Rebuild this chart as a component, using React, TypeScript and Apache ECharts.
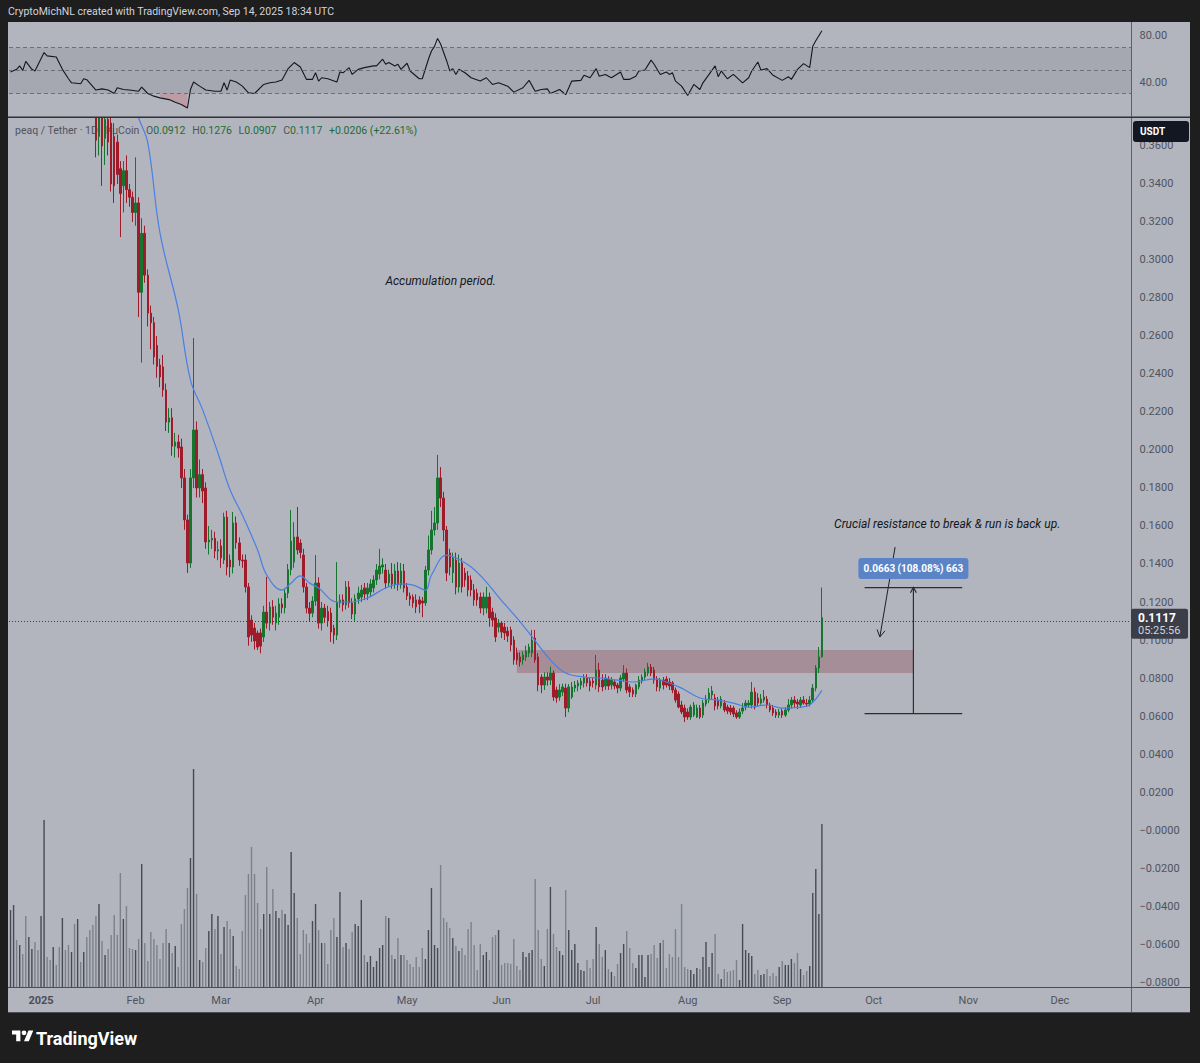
import React, { useEffect, useRef } from "react";
import * as echarts from "echarts";

// ---------- DATA ----------
// Daily candles from 2024-12-22 (index 0) to 2025-09-14 — [open, high, low, close]
const ohlc: number[][] = [
  [0.43,0.46,0.42,0.44],[0.44,0.47,0.43,0.46],[0.46,0.47,0.44,0.45],[0.45,0.48,0.44,0.47],[0.47,0.48,0.44,0.45],
  [0.45,0.47,0.43,0.44],[0.44,0.47,0.43,0.46],[0.46,0.50,0.45,0.49],[0.49,0.50,0.47,0.48],[0.48,0.49,0.46,0.47],
  // Jan 2025
  [0.47,0.49,0.46,0.48],[0.48,0.53,0.47,0.50],[0.50,0.51,0.48,0.49],[0.49,0.50,0.46,0.47],[0.47,0.49,0.46,0.48],
  [0.48,0.49,0.45,0.46],[0.46,0.47,0.43,0.44],[0.44,0.46,0.43,0.45],[0.45,0.46,0.42,0.43],[0.43,0.44,0.41,0.42],
  [0.42,0.44,0.41,0.43],[0.43,0.44,0.40,0.41],[0.41,0.43,0.40,0.42],[0.42,0.43,0.395,0.40],[0.40,0.42,0.39,0.41],
  [0.41,0.42,0.39,0.40],[0.40,0.41,0.385,0.395],[0.395,0.41,0.38,0.39],[0.39,0.40,0.354,0.363],[0.365,0.39,0.355,0.375],
  [0.378,0.39,0.339,0.36],[0.364,0.385,0.35,0.374],[0.374,0.385,0.355,0.362],[0.372,0.38,0.336,0.34],[0.365,0.372,0.33,0.339],
  [0.362,0.366,0.34,0.345],[0.348,0.352,0.312,0.335],[0.339,0.352,0.325,0.347],[0.347,0.355,0.33,0.337],[0.337,0.34,0.328,0.333],
  [0.333,0.336,0.32,0.325],[0.325,0.354,0.318,0.33],
  // Feb
  [0.33,0.333,0.27,0.283],[0.283,0.322,0.246,0.314],[0.314,0.318,0.288,0.292],[0.292,0.295,0.265,0.272],[0.272,0.276,0.253,0.267],
  [0.267,0.27,0.245,0.249],[0.255,0.26,0.238,0.244],[0.2447,0.248,0.233,0.2384],[0.2437,0.25,0.228,0.2316],[0.2316,0.235,0.21,0.2147],
  [0.2147,0.222,0.209,0.2168],[0.217,0.222,0.197,0.202],[0.202,0.209,0.196,0.2042],[0.2042,0.208,0.196,0.201],[0.2016,0.206,0.18,0.1853],
  [0.1853,0.19,0.158,0.1632],[0.1632,0.166,0.1353,0.1405],[0.1405,0.19,0.138,0.1853],[0.1853,0.2589,0.18,0.2105],[0.2105,0.215,0.175,0.18],
  [0.18,0.195,0.175,0.187],[0.187,0.19,0.172,0.1784],[0.18,0.183,0.148,0.1516],[0.1516,0.16,0.145,0.1526],[0.1526,0.158,0.148,0.1535],
  [0.1535,0.157,0.143,0.1468],[0.1468,0.152,0.142,0.1475],[0.1495,0.153,0.138,0.1432],
  // Mar
  [0.1421,0.167,0.14,0.1647],[0.1647,0.168,0.134,0.1384],[0.1421,0.145,0.133,0.1384],[0.1384,0.1674,0.135,0.1616],[0.1616,0.165,0.148,0.1511],
  [0.1511,0.154,0.139,0.1421],[0.1421,0.145,0.138,0.1416],[0.1421,0.145,0.125,0.1279],[0.1279,0.13,0.097,0.1016],[0.1105,0.113,0.099,0.1026],
  [0.1063,0.109,0.095,0.0995],[0.1037,0.105,0.0947,0.0963],[0.1037,0.106,0.093,0.0968],[0.1016,0.118,0.099,0.1147],[0.1147,0.1332,0.106,0.1089],
  [0.1089,0.12,0.105,0.1174],[0.1174,0.121,0.108,0.112],[0.109,0.118,0.105,0.1142],[0.112,0.122,0.108,0.119],[0.119,0.122,0.114,0.117],
  [0.117,0.127,0.114,0.1247],[0.1247,0.14,0.122,0.137],[0.137,0.1684,0.134,0.152],[0.141,0.162,0.138,0.1542],[0.1542,0.17,0.145,0.1474],
  [0.151,0.153,0.143,0.146],[0.1447,0.148,0.125,0.1279],[0.1279,0.13,0.114,0.1168],[0.1168,0.12,0.11,0.114],[0.1142,0.123,0.112,0.1205],
  [0.1205,0.1447,0.118,0.13],
  // Apr
  [0.13,0.133,0.106,0.1089],[0.1089,0.12,0.105,0.1168],[0.1168,0.119,0.109,0.112],[0.115,0.118,0.107,0.11],[0.1142,0.117,0.099,0.1042],
  [0.1063,0.108,0.098,0.1026],[0.1026,0.141,0.1,0.12],[0.1195,0.124,0.117,0.1211],[0.1211,0.124,0.115,0.1185],[0.1185,0.131,0.116,0.1279],
  [0.1279,0.131,0.117,0.1195],[0.1195,0.122,0.111,0.1137],[0.1137,0.124,0.11,0.1216],[0.1216,0.128,0.119,0.1247],[0.1226,0.129,0.12,0.1263],
  [0.1274,0.13,0.121,0.1242],[0.1242,0.13,0.121,0.1274],[0.1253,0.132,0.123,0.1295],[0.1274,0.134,0.125,0.1316],[0.1316,0.14,0.129,0.1368],
  [0.1347,0.148,0.132,0.1389],[0.1384,0.143,0.135,0.1395],[0.1368,0.14,0.127,0.13],[0.13,0.137,0.128,0.1347],[0.1347,0.1405,0.127,0.1295],
  [0.1295,0.14,0.127,0.1363],[0.1363,0.141,0.126,0.129],[0.129,0.1405,0.127,0.1363],[0.1363,0.14,0.125,0.1274],[0.1279,0.13,0.121,0.1232],
  // May
  [0.1232,0.125,0.118,0.1215],[0.1226,0.124,0.117,0.1195],[0.1211,0.124,0.1142,0.1174],[0.1211,0.123,0.1142,0.1189],[0.1205,0.1226,0.112,0.1195],
  [0.1195,0.139,0.118,0.1368],[0.1368,0.155,0.134,0.1474],[0.1474,0.168,0.145,0.1579],[0.1579,0.17,0.155,0.1616],[0.1616,0.1974,0.158,0.1853],
  [0.1853,0.191,0.17,0.1747],[0.1747,0.178,0.152,0.1579],[0.1579,0.16,0.131,0.1353],[0.1458,0.148,0.134,0.1384],[0.1353,0.146,0.13,0.1432],
  [0.1421,0.146,0.124,0.1279],[0.1279,0.145,0.125,0.1405],[0.1405,0.1432,0.125,0.1279],[0.1353,0.138,0.128,0.1316],[0.1337,0.1363,0.123,0.1263],
  [0.1316,0.134,0.123,0.1263],[0.1263,0.1295,0.118,0.1211],[0.1247,0.127,0.118,0.1211],[0.1226,0.125,0.114,0.1168],[0.1168,0.125,0.113,0.1226],
  [0.1168,0.128,0.114,0.1226],[0.1226,0.125,0.107,0.1116],[0.1147,0.117,0.107,0.1105],[0.1116,0.114,0.099,0.1016],[0.1068,0.111,0.104,0.1089],
  [0.1089,0.11,0.101,0.1042],
  // Jun
  [0.1068,0.109,0.1,0.1037],[0.1047,0.107,0.099,0.1021],[0.1053,0.107,0.094,0.0974],[0.1,0.102,0.087,0.0895],[0.0932,0.096,0.087,0.0895],
  [0.0911,0.0935,0.086,0.0884],[0.0895,0.094,0.087,0.0921],[0.0911,0.097,0.089,0.0942],[0.0932,0.098,0.091,0.0963],[0.0932,0.1053,0.091,0.1],
  [0.101,0.1053,0.088,0.0895],[0.0911,0.093,0.073,0.0763],[0.0805,0.082,0.072,0.0763],[0.0763,0.083,0.0737,0.0805],[0.0805,0.083,0.076,0.0789],
  [0.0789,0.086,0.0763,0.0826],[0.0826,0.084,0.068,0.07],[0.0737,0.0755,0.067,0.0695],[0.07,0.0768,0.068,0.0737],[0.0726,0.077,0.0705,0.0753],
  [0.0747,0.077,0.0595,0.0642],[0.0642,0.0768,0.062,0.0753],[0.07,0.0779,0.069,0.0753],[0.0747,0.0784,0.0726,0.0763],[0.0758,0.0789,0.073,0.0774],
  [0.0763,0.08,0.074,0.0784],[0.0774,0.082,0.075,0.08],[0.08,0.082,0.0755,0.0774],[0.0784,0.0805,0.073,0.0758],[0.0784,0.08,0.075,0.0774],
  // Jul
  [0.0763,0.0921,0.074,0.0842],[0.0842,0.088,0.0726,0.0753],[0.0789,0.082,0.073,0.0753],[0.0758,0.082,0.0737,0.08],[0.0795,0.081,0.0737,0.0758],
  [0.0763,0.0805,0.074,0.0789],[0.0779,0.079,0.074,0.0758],[0.0763,0.0775,0.072,0.0747],[0.0747,0.0816,0.073,0.08],[0.0795,0.0868,0.078,0.0826],
  [0.0826,0.085,0.072,0.0737],[0.0753,0.0768,0.07,0.0726],[0.0737,0.075,0.07,0.0716],[0.0716,0.077,0.07,0.0763],[0.0753,0.081,0.074,0.0789],
  [0.0784,0.082,0.077,0.0805],[0.0805,0.085,0.079,0.0832],[0.0826,0.088,0.081,0.0858],[0.0858,0.0874,0.081,0.0826],[0.0842,0.0858,0.077,0.0789],
  [0.0795,0.081,0.073,0.0753],[0.0747,0.08,0.073,0.0789],[0.0789,0.0805,0.074,0.0763],[0.0795,0.081,0.075,0.0763],[0.0779,0.08,0.0737,0.0758],
  [0.0774,0.0784,0.072,0.0737],[0.0737,0.075,0.067,0.0684],[0.0716,0.073,0.064,0.0647],[0.0658,0.068,0.061,0.0621],[0.0642,0.066,0.0568,0.0595],
  [0.0621,0.064,0.058,0.0595],
  // Aug
  [0.0595,0.066,0.058,0.0647],[0.0605,0.0674,0.0595,0.0658],[0.0595,0.066,0.059,0.0642],[0.0642,0.0658,0.0585,0.0595],[0.0605,0.0684,0.059,0.0668],
  [0.0663,0.071,0.065,0.0684],[0.0684,0.0747,0.0668,0.0721],[0.0711,0.0758,0.069,0.0732],[0.0695,0.0716,0.063,0.0653],[0.0684,0.07,0.0635,0.0653],
  [0.0653,0.0705,0.064,0.0689],[0.0668,0.0684,0.062,0.0632],[0.0647,0.066,0.061,0.0626],[0.0642,0.0658,0.0605,0.0621],[0.0642,0.0653,0.0595,0.0611],
  [0.0616,0.063,0.0585,0.0595],[0.0595,0.064,0.0585,0.0621],[0.0626,0.0668,0.061,0.0642],[0.0647,0.0684,0.063,0.0668],[0.0658,0.0684,0.0645,0.0668],
  [0.0658,0.0779,0.064,0.0726],[0.0726,0.075,0.0635,0.0647],[0.0695,0.072,0.065,0.0668],[0.0668,0.0716,0.066,0.0689],[0.0684,0.0737,0.067,0.07],
  [0.0689,0.0705,0.064,0.0658],[0.0658,0.067,0.062,0.0632],[0.0642,0.0658,0.06,0.0616],[0.0621,0.0635,0.059,0.0605],[0.0605,0.0637,0.059,0.0621],
  [0.0626,0.064,0.059,0.0605],
  // Sep
  [0.0605,0.0647,0.0595,0.0632],[0.0632,0.0689,0.062,0.0658],[0.0658,0.07,0.064,0.0684],[0.0684,0.0705,0.0647,0.0668],[0.0674,0.0689,0.0637,0.0663],
  [0.0658,0.07,0.0642,0.0684],[0.0684,0.0705,0.066,0.0668],[0.0668,0.069,0.0647,0.0663],[0.0663,0.0705,0.065,0.0684],[0.0684,0.0768,0.067,0.0747],
  [0.0747,0.0868,0.073,0.0853],[0.0853,0.0963,0.0826,0.0911],[0.0912,0.1276,0.0907,0.1117],
];

// Volume per candle (same order, arbitrary units)
const volumes: number[] = [
  77,82,47,42,33,71,50,38,45,37, 71,167,30,27,40,22,40,69,37,42, 35,63,68,25,35,50,57,62,71,83,
  46,32,38,52,72,52,114,68,81,39, 38,37,48,123,44,26,55,48,42,28, 44,58,44,34,41,20,63,78,99,129,
  218,93,27,25,39,56,73,58,71,33, 60,66,58,51,21,18,56,92,113,140, 113,84,58,73,120,73,98,76,69,77,
  73,62,135,94,69,33,57,53,44,66, 83,57,44,44,23,57,69,50,95,40, 44,38,55,63,61,87,32,25,31,20,
  26,39,42,71,69,32,28,49,32,32, 27,23,20,30,20,39,28,57,99,42, 39,122,69,65,59,49,41,36,39,32,
  58,65,42,17,43,32,35,27,50,52, 57,22,24,24,23,48,21,17,35,30, 34,37,108,57,28,21,58,100,53,40,
  36,32,97,57,37,43,24,17,16,27, 19,28,60,43,30,37,18,15,11,23, 34,43,56,39,24,19,32,32,10,32,
  33,42,29,44,47,19,33,30,58,30, 83,20,18,17,13,19,18,30,45,20, 34,53,13,8,18,15,16,17,27,7,
  63,37,34,31,13,17,12,13,18,11, 14,11,20,26,22,22,28,24,34,18, 12,16,21,94,118,73,163,
];

// Moving average (blue): day offset from 2025-01-01 and value
const maDays = [30,32,35,39,45,49,53,58,62,66,71,74,79,82,85,88,91,97,101,107,113,118,122,126,128,133,136,141,146,150,156,161,167,172,178,183,189,194,201,205,210,216,222,227,232,238,243,249,252,256];
const maValues = [0.385,0.3747,0.3616,0.3142,0.2737,0.2368,0.2211,0.1984,0.1789,0.1658,0.1474,0.1342,0.1263,0.130,0.1337,0.130,0.1274,0.12,0.12,0.1221,0.1274,0.1295,0.1289,0.1263,0.1342,0.1447,0.1432,0.1384,0.1305,0.1226,0.1116,0.1016,0.0895,0.0826,0.0805,0.08,0.0789,0.0779,0.0795,0.0779,0.0747,0.0695,0.0684,0.0668,0.0647,0.0658,0.0642,0.0647,0.0658,0.0735];

// RSI: day offset from 2025-01-01 and value
const rsiDays = [-10,-8,-7,-6,-5,-3,-2,1,2,5,7,9,10,13,14,15,18,20,22,24,25,27,29,32,33,35,37,39,42,44,46,48,49,50,52,54,57,59,60,61,62,64,66,68,70,73,75,77,79,81,83,85,87,89,90,91,92,94,97,98,99,101,102,104,106,109,110,112,113,114,116,117,118,120,121,124,125,127,128,129,130,131,133,134,135,136,137,139,141,144,146,148,150,153,155,158,160,162,164,166,167,170,172,174,177,178,180,182,183,185,187,190,191,193,195,196,198,200,201,203,205,206,207,208,210,212,214,216,217,219,221,222,223,225,227,230,232,233,235,236,238,240,243,245,246,248,250,252,253,254,256];
const rsiValues = [48.7,51,54,50,58,51,49.6,65.6,62.7,61.8,51,42.8,39.3,38.5,42.8,42,33,34,33,30,35,33.5,33,32,35.5,30,27.7,26.2,24.7,22.4,20.4,17.4,33.5,40,36.4,33,32,32,39.3,33,41.7,40,36.4,30.6,30,37.9,39.3,40,41.7,51.6,56.9,53,42.3,42.3,48,40.8,43.7,42.8,40,48.7,48,52.5,46.6,51,52.5,54,54,59.8,55.4,56.9,54,55.4,51,56.3,49.6,42.8,42.8,59.8,67,71,77.9,73,58.3,49.6,51.6,46.6,51,48,43.7,40.8,43.7,37.9,39.3,36.4,31.2,35,41.4,32,33.5,34,30,33.5,29,40.8,41.4,45.8,43.7,51.6,45,46.6,43.7,48.7,42.3,42.3,45,49.6,50.4,59,55.4,46.6,48.7,46.6,48,40.8,36.4,28.2,37.9,33.5,39.3,46.6,54,44.6,49.6,42.8,46.6,39.3,43.7,49.6,57.4,50.4,51.6,45.8,41.4,44.6,42.3,51,56,52.5,71,75.8,84.6];
const oversoldDays = [39, 48];

const priceTicks = [0.36,0.34,0.32,0.30,0.28,0.26,0.24,0.22,0.20,0.18,0.16,0.14,0.12,0.10,0.08,0.06,0.04,0.02,0,-0.02,-0.04,-0.06,-0.08];
const rsiTicks = [80, 40];
const rsiLevels = [70, 50, 30];
const monthNames = ["Jan","Feb","Mar","Apr","May","Jun","Jul","Aug","Sep","Oct","Nov","Dec"];

const lastPrice = 0.1117;
const zoneDays = [156, 286];
const zonePrices = [0.0826, 0.0947];
const measureDays = [270, 286, 302];
const measurePrices = [0.0613, 0.1276];
const measureLabel = "0.0663 (108.08%) 663";
const arrowFrom = [280, 0.1489];
const arrowTo = [275, 0.1016];

// categories: one per day, 2024-12-22 .. 2025-12-24
const DAY_OFFSET = 10;
const categories: string[] = [];
for (let i = 0; i < 368; i++) {
  const t = new Date(Date.UTC(2024, 11, 22) + i * 86400000);
  categories.push(t.toISOString().slice(0, 10));
}
const cat = (d: number) => categories[d + DAY_OFFSET];

const FONT = "Roboto";
const UP = "#15742d";
const DOWN = "#a01b29";
const GRID_LEFT = 9;
const GRID_RIGHT = 1200 - 1131.5;

export default function App() {
  const mainRef = useRef<HTMLDivElement>(null);
  const rsiRef = useRef<HTMLDivElement>(null);

  useEffect(() => {
    // ---------------- main price pane ----------------
    const chart = echarts.init(mainRef.current!, null, { renderer: "svg", width: 1200, height: 1063 });

    const candleData = ohlc.map((r) => [r[0], r[3], r[2], r[1]]);
    const volData = volumes.map((v, i) => ({
      value: v,
      itemStyle: { color: ohlc[i][3] >= ohlc[i][0] ? "#474a53" : "#7d8089" },
    }));
    const maData: (number | null)[] = categories.map(() => null);
    maDays.forEach((d, i) => (maData[d + DAY_OFFSET] = maValues[i]));

    chart.setOption({
      animation: false,
      backgroundColor: "#1e1e1e",
      textStyle: { fontFamily: FONT },
      grid: [{ left: GRID_LEFT, right: GRID_RIGHT, top: 118, height: 869 }],
      xAxis: [
        {
          type: "category",
          data: categories,
          axisLine: { show: false },
          axisTick: { show: false },
          splitLine: { show: false },
          axisLabel: {
            margin: 8,
            color: "#50535e",
            fontSize: 11,
            fontFamily: FONT,
            interval: (_i: number, v: string) => v.endsWith("-01"),
            formatter: (v: string) => {
              const m = parseInt(v.slice(5, 7), 10);
              return m === 1 ? "{y|" + v.slice(0, 4) + "}" : monthNames[m - 1];
            },
            rich: { y: { fontWeight: "bold", color: "#4a4d57", fontSize: 11, fontFamily: FONT } },
          },
        },
      ],
      yAxis: [
        {
          type: "value",
          position: "right",
          min: -0.0826,
          max: 0.3747,
          splitLine: { show: false },
          axisLine: { show: false },
          axisTick: { show: false },
          axisLabel: {
            customValues: priceTicks,
            margin: 8,
            color: "#50535e",
            fontSize: 11,
            fontFamily: FONT,
            formatter: (v: number) => (v < 0.00001 ? "\u2212" + Math.abs(v).toFixed(4) : v.toFixed(4)),
          },
        },
        { type: "value", min: 0, max: 869, show: false },
      ],
      series: [
        {
          type: "bar",
          xAxisIndex: 0,
          yAxisIndex: 1,
          data: volData,
          barWidth: 1.4,
          silent: true,
        },
        {
          type: "candlestick",
          xAxisIndex: 0,
          yAxisIndex: 0,
          data: candleData,
          barWidth: 2,
          clip: true,
          itemStyle: { color: UP, color0: DOWN, borderColor: UP, borderColor0: DOWN, borderWidth: 1 },
          markLine: {
            silent: true,
            symbol: "none",
            label: { show: false },
            lineStyle: { color: "#3d4049", type: [1, 2], width: 1 },
            data: [{ yAxis: lastPrice }],
          },
          markArea: {
            silent: true,
            itemStyle: { color: "rgba(135,54,62,0.3)" },
            data: [[{ xAxis: cat(zoneDays[0]), yAxis: zonePrices[1] }, { xAxis: cat(zoneDays[1]), yAxis: zonePrices[0] }]],
          },
        },
        {
          type: "line",
          xAxisIndex: 0,
          yAxisIndex: 0,
          data: maData,
          connectNulls: true,
          smooth: 0.4,
          symbol: "none",
          lineStyle: { color: "#4a7fe6", width: 1.2 },
          silent: true,
        },
      ],
    });

    const px = (d: number, v: number) =>
      chart.convertToPixel({ xAxisIndex: 0, yAxisIndex: 0 }, [cat(d), v]) as number[];

    const head = (from: number[], to: number[], len: number) => {
      const dx = to[0] - from[0];
      const dy = to[1] - from[1];
      const L = Math.hypot(dx, dy);
      const ux = dx / L, uy = dy / L;
      const a = Math.PI / 6;
      const r1 = [to[0] - len * (ux * Math.cos(a) - uy * Math.sin(a)), to[1] - len * (uy * Math.cos(a) + ux * Math.sin(a))];
      const r2 = [to[0] - len * (ux * Math.cos(-a) - uy * Math.sin(-a)), to[1] - len * (uy * Math.cos(-a) + ux * Math.sin(-a))];
      return [r1, to, r2];
    };

    const yLast = px(0, lastPrice)[1];
    const mL = px(measureDays[0], measurePrices[1]);
    const mC = px(measureDays[1], measurePrices[0]);
    const mR = px(measureDays[2], measurePrices[0]);
    const mTop = px(measureDays[1], measurePrices[1]);
    const a0 = px(arrowFrom[0], arrowFrom[1]);
    const a1 = px(arrowTo[0], arrowTo[1]);
    const accPos = px(131, 0.289);
    const crucialPos = px(260, 0.161);
    const labelY = mTop[1] - 19;

    echarts.graphic.registerShape(
      "tvlogo",
      echarts.graphic.extendPath("M14 22H7V11H0V4h14v18ZM28 22h-8l7.5-18h8L28 22ZM24 8a4 4 0 1 1-8 0a4 4 0 1 1 8 0Z", {})
    );

    const lineEl = (x1: number, y1: number, x2: number, y2: number, stroke: string, w = 1, z = 50) => ({
      type: "line",
      z,
      silent: true,
      shape: { x1, y1, x2, y2 },
      style: { stroke, lineWidth: w },
    });

    chart.setOption({
      graphic: [
        { type: "rect", z: -10, silent: true, shape: { x: 8, y: 22, width: 1182, height: 991 }, style: { fill: "#b2b5bd" } },
        lineEl(1131.5, 22, 1131.5, 1013, "#5d606b", 1, 60),
        lineEl(8, 987.5, 1190, 987.5, "#4a4d56", 1, 60),
        lineEl(8, 1012.5, 1190, 1012.5, "#4a4d56", 1, 60),
        {
          type: "text", z: -5, x: 15, y: 130, silent: true,
          style: { text: "peaq / Tether \u00b7 1D \u00b7 KuCoin", fill: "#50535e", font: "10.5px Roboto", verticalAlign: "middle" },
        },
        {
          type: "text", z: -5, x: 146, y: 130, silent: true,
          style: {
            text: "{l|O}{v|0.0912}  {l|H}{v|0.1276}  {l|L}{v|0.0907}  {l|C}{v|0.1117}  {v|+0.0206 (+22.61%)}",
            verticalAlign: "middle",
            rich: {
              l: { fill: "#50535e", font: "10.5px Roboto" },
              v: { fill: "#1d6b36", font: "10.5px Roboto" },
            },
          },
        },
        // USDT box
        { type: "rect", z: 80, silent: true, shape: { x: 1133, y: 121, width: 56, height: 21, r: 3 }, style: { fill: "#131722" } },
        { type: "text", z: 81, x: 1140, y: 131.5, silent: true, style: { text: "USDT", fill: "#ffffff", font: "bold 10px Roboto", verticalAlign: "middle" } },
        // last price label
        { type: "rect", z: 80, silent: true, shape: { x: 1131, y: yLast - 9, width: 57, height: 30, r: 2 }, style: { fill: "#3b3e48" } },
        { type: "text", z: 81, x: 1138, y: yLast, silent: true, style: { text: "0.1117", fill: "#ffffff", font: "bold 12px Roboto", verticalAlign: "middle" } },
        { type: "text", z: 81, x: 1138, y: yLast + 13, silent: true, style: { text: "05:25:56", fill: "#d1d4dc", font: "11px Roboto", verticalAlign: "middle" } },
        // annotations
        {
          type: "text", z: 70, x: accPos[0], y: accPos[1], silent: true,
          style: { text: "Accumulation period.", fill: "#131722", font: "italic 12px Roboto", align: "center", verticalAlign: "middle" },
        },
        {
          type: "text", z: 70, x: crucialPos[0], y: crucialPos[1], silent: true,
          style: { text: "Crucial resistance to break & run is back up.", fill: "#131722", font: "italic 12px Roboto", verticalAlign: "middle" },
        },
        // arrow
        lineEl(a0[0], a0[1], a1[0], a1[1], "#1e2028", 1, 65),
        { type: "polyline", z: 65, silent: true, shape: { points: head(a0, a1, 8) }, style: { stroke: "#1e2028", lineWidth: 1, fill: null } },
        // measure tool
        lineEl(mL[0], mL[1], mR[0], mL[1], "#2b2d33", 1.2, 65),
        lineEl(mL[0], mC[1], mR[0], mC[1], "#2b2d33", 1.2, 65),
        lineEl(mC[0], mC[1], mTop[0], mTop[1], "#2b2d33", 1.2, 65),
        { type: "polyline", z: 65, silent: true, shape: { points: head(mC, mTop, 6) }, style: { stroke: "#2b2d33", lineWidth: 1.2, fill: null } },
        { type: "rect", z: 75, silent: true, shape: { x: mTop[0] - 55, y: labelY - 10.5, width: 110, height: 21, r: 3 }, style: { fill: "#5b84c6" } },
        {
          type: "text", z: 76, x: mTop[0], y: labelY, silent: true,
          style: { text: measureLabel, fill: "#ffffff", font: "bold 10px Roboto", align: "center", verticalAlign: "middle" },
        },
        // footer logo
        { type: "tvlogo", z: 60, x: 12, y: 1028, scaleX: 0.6, scaleY: 0.6, silent: true, style: { fill: "#ffffff" } },
        {
          type: "text", z: 60, x: 36, y: 1038, silent: true,
          style: { text: "TradingView", fill: "#ffffff", font: "bold 18px Roboto", verticalAlign: "middle" },
        },
      ],
    });

    // ---------------- RSI pane (on top, covers header + RSI strip) ----------------
    const rsiChart = echarts.init(rsiRef.current!, null, { renderer: "svg", width: 1200, height: 118 });
    const rsiData: (number | null)[] = categories.map(() => null);
    rsiDays.forEach((d, i) => (rsiData[d + DAY_OFFSET] = rsiValues[i]));
    const rsiLow: (number | null)[] = categories.map(() => null);
    rsiDays.forEach((d, i) => {
      if (d >= oversoldDays[0] && d <= oversoldDays[1]) rsiLow[d + DAY_OFFSET] = rsiValues[i];
    });

    rsiChart.setOption({
      animation: false,
      backgroundColor: "#1e1e1e",
      textStyle: { fontFamily: FONT },
      grid: { left: GRID_LEFT, right: GRID_RIGHT, top: 22, height: 95 },
      xAxis: { type: "category", data: categories, show: false },
      yAxis: {
        type: "value",
        position: "right",
        min: 9.57,
        max: 92.17,
        splitLine: { show: false },
        axisLine: { show: false },
        axisTick: { show: false },
        axisLabel: {
          customValues: rsiTicks,
          margin: 8,
          color: "#50535e",
          fontSize: 11,
          fontFamily: FONT,
          formatter: (v: number) => v.toFixed(2),
        },
      },
      series: [
        {
          type: "line",
          data: rsiLow,
          connectNulls: true,
          symbol: "none",
          lineStyle: { width: 0, opacity: 0 },
          areaStyle: { color: "rgba(242,54,69,0.28)", origin: 30 },
          z: 1,
          silent: true,
        },
        {
          type: "line",
          data: rsiData,
          connectNulls: true,
          symbol: "none",
          lineStyle: { color: "#131722", width: 1.1 },
          silent: true,
          markArea: {
            silent: true,
            itemStyle: { color: "rgba(80,83,94,0.13)" },
            data: [[{ yAxis: 30 }, { yAxis: 70 }]],
          },
          markLine: {
            silent: true,
            symbol: "none",
            label: { show: false },
            lineStyle: { color: "#6d707a", type: [4, 3], width: 1 },
            data: rsiLevels.map((l) => ({ yAxis: l })),
          },
        },
      ],
      graphic: [
        { type: "rect", z: -10, silent: true, shape: { x: 8, y: 22, width: 1182, height: 96 }, style: { fill: "#b2b5bd" } },
        {
          type: "text", z: 60, x: 8, y: 11, silent: true,
          style: { text: "CryptoMichNL created with TradingView.com, Sep 14, 2025 18:34 UTC", fill: "#d1d4dc", font: "10.5px Roboto", verticalAlign: "middle" },
        },
        lineEl(1131.5, 22, 1131.5, 118, "#5d606b", 1, 60),
        lineEl(8, 117.25, 1190, 117.25, "#2f3139", 1.5, 60),
      ],
    });

    return () => {
      chart.dispose();
      rsiChart.dispose();
    };
  }, []);

  return (
    <div style={{ position: "absolute", left: 0, top: 0, width: 1200, height: 1063 }}>
      <div ref={mainRef} style={{ position: "absolute", left: 0, top: 0, width: 1200, height: 1063 }} />
      <div ref={rsiRef} style={{ position: "absolute", left: 0, top: 0, width: 1200, height: 118, zIndex: 2 }} />
    </div>
  );
}
